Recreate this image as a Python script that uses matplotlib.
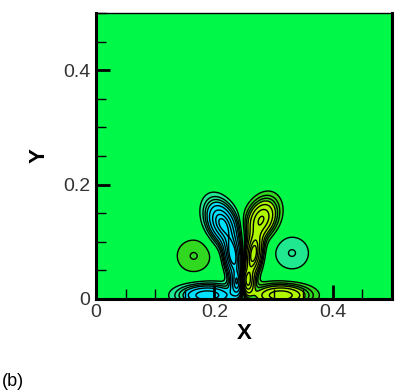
import numpy as np
import matplotlib.pyplot as plt
from matplotlib.colors import ListedColormap, BoundaryNorm
from matplotlib.ticker import MultipleLocator

plt.rcParams['font.family'] = ['Liberation Sans', 'DejaVu Sans']

# vortex blobs: centre, strength, spread, tilt (deg)
blob_x = [0.213, 0.231, 0.240, 0.188, 0.280, 0.266, 0.254, 0.312, 0.165, 0.331]
blob_y = [0.132, 0.075, 0.028, 0.006, 0.140, 0.078, 0.030, 0.006, 0.075, 0.080]
blob_amp = [-4.2, -4.5, -4.0, -3.2, 3.4, 4.5, 4.0, 3.2, 0.62, -0.62]
blob_sx = [0.0145, 0.009, 0.008, 0.030, 0.015, 0.009, 0.008, 0.030, 0.023, 0.023]
blob_sy = [0.025, 0.024, 0.015, 0.012, 0.023, 0.024, 0.015, 0.012, 0.023, 0.023]
blob_tilt = [22, 8, 0, 0, -22, -8, 0, 0, 0, 0]

levels = [-8, -1.25, -0.3, 0.3, 1.25, 8]
band_colors = ['#00e0ff', '#20e890', '#00f848', '#30d820', '#b0f800']
line_levels = [-4, -3.4, -2.6, -1.8, -1.25, -0.9, -0.6, -0.3,
               0.3, 0.6, 0.9, 1.25, 1.8, 2.6, 3.4, 4]

x = np.linspace(0, 0.5, 500)
y = np.linspace(0, 0.5, 500)
X, Y = np.meshgrid(x, y)
W = np.zeros_like(X)
for bx, by, a, sx, sy, t in zip(blob_x, blob_y, blob_amp, blob_sx, blob_sy, blob_tilt):
    t = np.radians(t)
    u = (X - bx) * np.cos(t) + (Y - by) * np.sin(t)
    v = -(X - bx) * np.sin(t) + (Y - by) * np.cos(t)
    W += a * np.exp(-(u ** 2 / (2 * sx ** 2) + v ** 2 / (2 * sy ** 2)))

fig = plt.figure(figsize=(3.99, 3.92), dpi=100)
ax = fig.add_axes([0.2406, 0.238, 0.742, 0.728])

cmap = ListedColormap(band_colors)
norm = BoundaryNorm(levels, cmap.N)
ax.contourf(X, Y, W, levels=levels, cmap=cmap, norm=norm)
ax.contour(X, Y, W, levels=line_levels, colors='black', linewidths=1.0,
           linestyles='solid')

ax.set_xlim(0, 0.5)
ax.set_ylim(0, 0.5)
ax.xaxis.set_major_locator(MultipleLocator(0.2))
ax.yaxis.set_major_locator(MultipleLocator(0.2))
ax.xaxis.set_minor_locator(MultipleLocator(0.05))
ax.yaxis.set_minor_locator(MultipleLocator(0.05))
ax.xaxis.set_major_formatter(plt.FuncFormatter(lambda v, p: f"{v:g}"))
ax.yaxis.set_major_formatter(plt.FuncFormatter(lambda v, p: f"{v:g}"))

ax.tick_params(which='major', direction='in', length=10, width=2,
               labelsize=14, labelcolor='#333333', pad=4)
ax.tick_params(which='minor', direction='in', length=7, width=1)
for s in ['left', 'bottom', 'right']:
    ax.spines[s].set_linewidth(2.2)
ax.spines['top'].set_linewidth(1)

ax.set_xlabel('X', fontsize=16, fontweight='bold', labelpad=1)
ax.set_ylabel('Y', fontsize=16, fontweight='bold', labelpad=10)

fig.text(0.004, 0.015, '(b)', fontsize=13)

fig.savefig('out.png', dpi=100)
